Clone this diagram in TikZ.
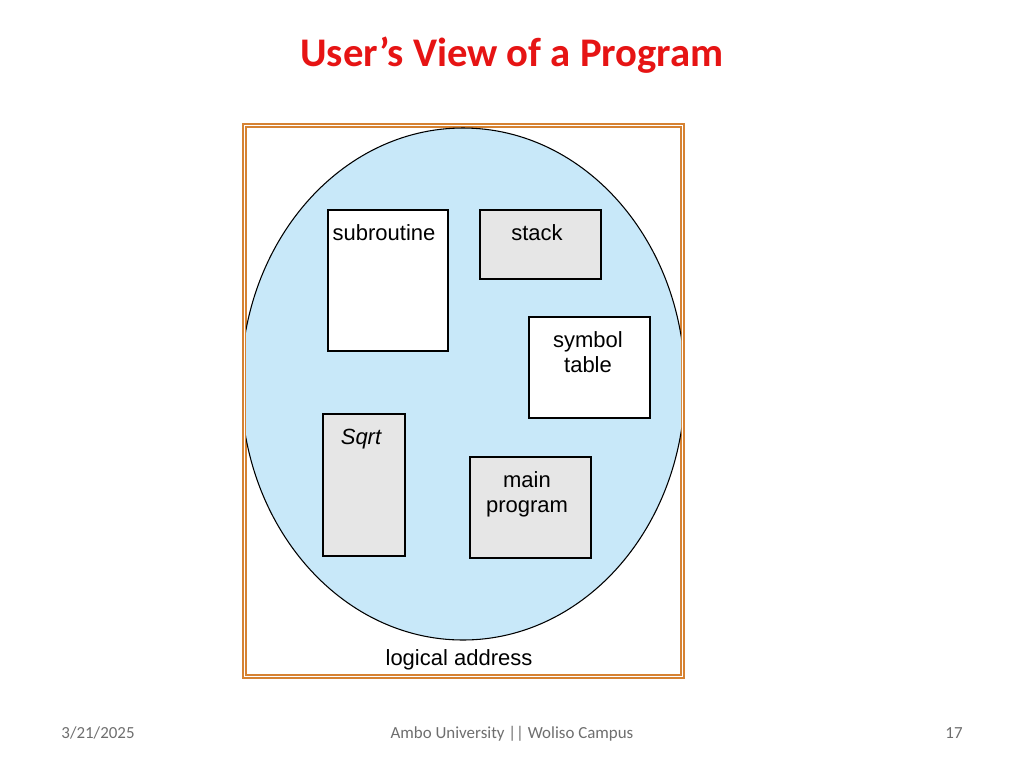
\documentclass[tikz,border=0pt]{standalone}
\usepackage{fontspec}
\setmainfont{Liberation Sans}
\newfontfamily\carfont{Carlito}
\definecolor{ttl}{RGB}{230,20,20}
\definecolor{frm}{RGB}{214,130,50}
\definecolor{blu}{RGB}{200,232,249}
\definecolor{gry}{RGB}{230,230,230}
\definecolor{ftr}{RGB}{110,110,110}
\tikzset{seg/.style={draw=black,line width=0.9pt,inner sep=0pt},
 lbl/.style={font=\fontsize{16.5}{18}\selectfont,align=center,anchor=north},
 foot/.style={font=\carfont\fontsize{12.7}{15}\selectfont,text=ftr,anchor=base}}
\begin{document}
\begin{tikzpicture}[x=0.75pt,y=-0.75pt]
\useasboundingbox (0,0) rectangle (1024,768);
\node[font=\carfont\bfseries\fontsize{30.5}{34}\selectfont,text=ttl] (title) at (512,55) {User’s View of a Program};
\draw[frm,line width=1pt] (243,124) rectangle (684,678);
\draw[frm,line width=1pt] (246,127) rectangle (681,675);
\begin{scope}
\clip (246,127) rectangle (681,675);
\draw[fill=blu,line width=0.8pt] (463,384) ellipse [x radius=222, y radius=256];
\end{scope}
\draw[seg,fill=white] (328,210) rectangle (448,351);
\node[lbl] (sub) at (384,220) {subroutine};
\draw[seg,fill=gry] (480,210) rectangle (601,279);
\node[lbl] (stk) at (537,220) {stack};
\draw[seg,fill=white] (529,317) rectangle (650,418);
\node[lbl] (sym) at (588,327) {symbol\\[1pt]table};
\draw[seg,fill=gry] (323,414) rectangle (405,556);
\node[lbl,font=\itshape\fontsize{16.5}{18}\selectfont] (sq) at (361,424) {Sqrt};
\draw[seg,fill=gry] (470,457) rectangle (591,558);
\node[lbl] (mp) at (527,467) {main\\[1pt]program};
\node[font=\fontsize{16.5}{18}\selectfont] (la) at (459,660) {logical address};
\node[foot] (d) at (98,738) {3/21/2025};
\node[foot] (u) at (512,738) {Ambo University || Woliso Campus};
\node[foot] (n) at (954,738) {17};
\end{tikzpicture}
\end{document}
